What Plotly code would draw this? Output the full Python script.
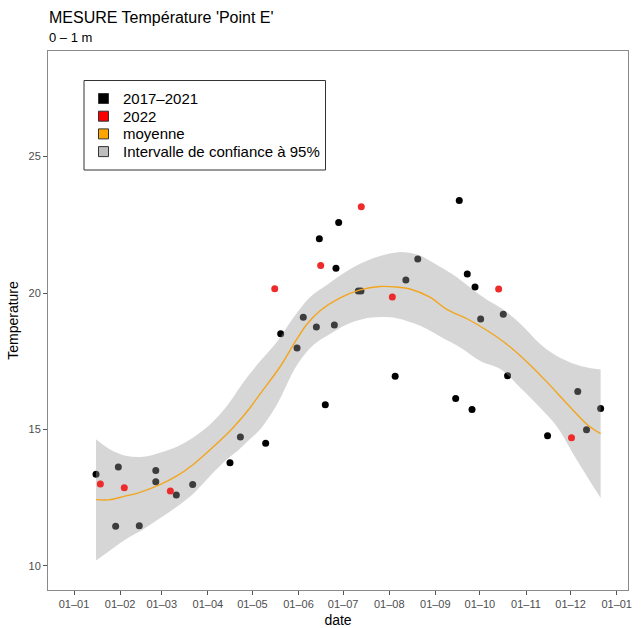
import pandas as pd
import plotly.graph_objects as go

# ---- data: day of year (from 1 January) and temperature ----
hist_days = [14.8, 29.8, 28.0, 43.9, 55.0, 55.0, 68.8, 79.8, 104.9, 111.9, 128.9,
             139.0, 150.0, 154.2, 163.0, 165.0, 169.0, 175.1, 176.2, 178.0, 191.2,
             193.0, 216.0, 223.2, 231.2, 256.7, 259.1, 264.5, 267.7, 269.7, 273.5,
             288.7, 291.6, 318.5, 338.8, 344.7, 354.2]
hist_temp = [13.36, 13.63, 11.46, 11.47, 13.50, 13.09, 12.60, 12.99, 13.78, 14.73, 14.50,
             18.51, 17.99, 19.11, 18.76, 21.99, 15.91, 18.83, 20.91, 22.59, 20.08,
             20.08, 16.95, 20.48, 21.25, 16.14, 23.39, 20.70, 15.73, 20.22, 19.05,
             19.22, 16.97, 14.77, 16.39, 14.99, 15.77]

y2022_days = [17.7, 33.8, 64.8, 135.0, 165.9, 193.2, 214.1, 285.6, 334.6]
y2022_temp = [13.00, 12.87, 12.75, 20.16, 21.01, 23.16, 19.86, 20.15, 14.70]

# smoothed mean
mean_days = [14.8, 24.2, 33.6, 44.4, 57.8, 68.6, 80.0, 91.5, 104.9, 111.6, 118.4,
             125.1, 138.6, 147.5, 156.5, 165.5, 178.9, 192.4, 205.8, 217.0, 226.0,
             239.7, 251.0, 264.6, 278.1, 291.7, 305.2, 318.8, 332.4, 345.9, 354.2]
mean_temp = [12.43, 12.43, 12.55, 12.70, 12.98, 13.28, 13.71, 14.26, 14.95, 15.35, 15.80,
             16.30, 17.30, 18.10, 18.85, 19.35, 19.82, 20.12, 20.24, 20.22, 20.15,
             19.84, 19.39, 19.05, 18.62, 18.10, 17.45, 16.70, 15.90, 15.15, 14.85]

# 95% confidence band
upper_days = [14.8, 24.2, 35.4, 46.6, 57.8, 69.1, 80.2, 91.5, 102.7, 111.6, 118.4,
              125.1, 136.3, 147.5, 158.7, 170.0, 183.4, 196.9, 210.3, 221.5, 232.7,
              242.0, 255.5, 263.0, 270.0, 278.0, 288.7, 300.7, 314.3, 327.9, 341.4, 354.2]
upper_temp = [14.64, 14.27, 14.03, 14.00, 14.15, 14.37, 14.71, 15.18, 15.85, 16.55, 17.05,
              17.50, 18.20, 19.10, 19.85, 20.30, 20.80, 21.18, 21.42, 21.50, 21.38,
              21.10, 20.65, 20.35, 20.05, 19.75, 19.40, 18.85, 18.10, 17.60, 17.32, 17.20]
lower_days = [14.8, 24.2, 35.4, 46.6, 57.8, 69.1, 80.2, 91.5, 102.7, 111.6, 118.4,
              125.1, 136.3, 149.8, 161.0, 172.2, 183.4, 194.6, 205.8, 217.0, 232.9,
              246.5, 260.0, 273.6, 287.2, 300.7, 314.3, 324.7, 338.1, 349.3, 354.2]
lower_temp = [10.20, 10.57, 11.00, 11.35, 11.75, 12.17, 12.65, 13.30, 13.90, 14.30, 14.65,
              15.00, 15.90, 17.35, 18.10, 18.50, 18.85, 19.05, 19.12, 19.08, 18.80,
              18.40, 18.00, 17.50, 17.20, 16.50, 15.75, 15.11, 13.89, 12.91, 12.49]

tick_dates = ["2022-01-01", "2022-02-01", "2022-03-01", "2022-04-01", "2022-05-01",
              "2022-06-01", "2022-07-01", "2022-08-01", "2022-09-01", "2022-10-01",
              "2022-11-01", "2022-12-01", "2023-01-01"]
tick_labels = ["01–01", "01–02", "01–03", "01–04", "01–05", "01–06", "01–07",
               "01–08", "01–09", "01–10", "01–11", "01–12", "01–01"]
y_ticks = [10, 15, 20, 25]

legend_labels = ["2017–2021", "2022", "moyenne", "Intervalle de confiance à 95%"]
legend_colors = ["#000000", "#FF0000", "#FFA500", "#BEBEBE"]

BASE = pd.Timestamp("2022-01-01")


def to_date(days):
    return [BASE + pd.Timedelta(days=float(d)) for d in days]


FONT = "Liberation Sans, Arial, Helvetica, sans-serif"

fig = go.Figure()

fig.add_trace(go.Scatter(
    x=to_date(hist_days), y=hist_temp, mode="markers",
    marker=dict(color="#000000", size=7), showlegend=False, hoverinfo="skip"))

# confidence band drawn over the historical points
fig.add_trace(go.Scatter(
    x=to_date(lower_days), y=lower_temp, mode="lines",
    line=dict(width=0, shape="spline"), showlegend=False, hoverinfo="skip"))
fig.add_trace(go.Scatter(
    x=to_date(upper_days), y=upper_temp, mode="lines", fill="tonexty",
    fillcolor="rgba(153,153,153,0.4)",
    line=dict(width=0, shape="spline"), showlegend=False, hoverinfo="skip"))

fig.add_trace(go.Scatter(
    x=to_date(mean_days), y=mean_temp, mode="lines",
    line=dict(color="#F2A51E", width=1.4, shape="spline"), showlegend=False))

fig.add_trace(go.Scatter(
    x=to_date(y2022_days), y=y2022_temp, mode="markers",
    marker=dict(color="#EE2A2A", size=7), showlegend=False))

# plot area in pixels: x 48..628, y 51..590
L, R, T, B = 48, 628, 51, 590


def px_x(px):
    return (px - L) / (R - L)


def px_y(py):
    return (B - py) / (B - T)


shapes = []
annotations = []

# legend box
shapes.append(dict(type="rect", xref="paper", yref="paper",
                   x0=px_x(84), x1=px_x(325.5), y0=px_y(170), y1=px_y(80.5),
                   line=dict(color="#333333", width=1), fillcolor="white", layer="above"))
for i, (lab, col) in enumerate(zip(legend_labels, legend_colors)):
    cy = 98.5 + i * 17.7
    shapes.append(dict(type="rect", xref="paper", yref="paper",
                       x0=px_x(98.5), x1=px_x(108.5), y0=px_y(cy + 5), y1=px_y(cy - 5),
                       line=dict(color="#333333", width=1), fillcolor=col, layer="above"))
    annotations.append(dict(text=lab, xref="paper", yref="paper",
                            x=px_x(121), y=px_y(cy), xanchor="left", yanchor="middle",
                            showarrow=False, font=dict(family=FONT, size=15, color="#000000")))

# title and subtitle
annotations.append(dict(text="MESURE Température 'Point E'", xref="paper", yref="paper",
                        x=0, y=px_y(17), xanchor="left", yanchor="middle", xshift=-1,
                        showarrow=False, font=dict(family=FONT, size=16, color="#000000")))
annotations.append(dict(text="0 – 1 m", xref="paper", yref="paper",
                        x=0, y=px_y(38), xanchor="left", yanchor="middle", xshift=-1,
                        showarrow=False, font=dict(family=FONT, size=13, color="#000000")))

fig.update_layout(
    width=644, height=628,
    margin=dict(l=L, r=644 - R, t=T, b=628 - B, autoexpand=False),
    paper_bgcolor="white", plot_bgcolor="white",
    font=dict(family=FONT),
    shapes=shapes, annotations=annotations,
    showlegend=False,
)

fig.update_xaxes(
    type="date", automargin=False,
    range=to_date([-17.5, 372.6]),
    tickmode="array", tickvals=tick_dates, ticktext=tick_labels,
    ticks="outside", ticklen=4, tickcolor="#555555", tickwidth=1,
    tickfont=dict(family=FONT, size=11, color="#4D4D4D"),
    showgrid=False, zeroline=False,
    showline=True, mirror=True, linecolor="#8A8A8A", linewidth=1,
    title=dict(text="date", font=dict(family=FONT, size=14, color="#000000"), standoff=6),
)
fig.update_yaxes(
    automargin=False,
    range=[9.12, 28.87],
    tickmode="array", tickvals=y_ticks, ticktext=[str(v) for v in y_ticks],
    ticks="outside", ticklen=4, tickcolor="#555555", tickwidth=1,
    tickfont=dict(family=FONT, size=11, color="#4D4D4D"),
    showgrid=False, zeroline=False,
    showline=True, mirror=True, linecolor="#8A8A8A", linewidth=1,
    title=dict(text="Temperature", font=dict(family=FONT, size=14, color="#000000"), standoff=6),
)

fig.write_html("out.html")
